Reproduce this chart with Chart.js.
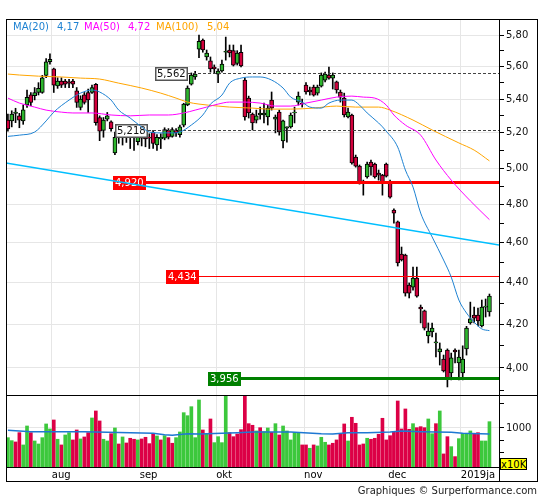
<!DOCTYPE html>
<html>
<head>
<meta charset="utf-8">
<script src="https://cdn.jsdelivr.net/npm/chart.js@4/dist/chart.umd.min.js"></script>
<style>
body { margin: 0; background: #fff; font-family: "DejaVu Sans", sans-serif; }
#box { position: relative; width: 545px; height: 500px; overflow: hidden; }
canvas { position: absolute; left: 0; top: 0; }
.lg { position: absolute; top: 21px; font-size: 10px; line-height: 12px; white-space: nowrap; }
#foot { position: absolute; right: 8px; top: 485px; font-size: 10px; line-height: 12px; color: #222; }
#unit { position: absolute; left: 500px; top: 458px; width: 27px; height: 12px; background: #ffff00;
        border: 1px solid #000; font-size: 10px; line-height: 12px; text-align: center; box-sizing: border-box; }
</style>
</head>
<body>
<div id="box">
  <canvas id="c" width="545" height="500"></canvas>
  <span class="lg" style="left:13px;color:#1e82d2">MA(20)</span>
  <span class="lg" style="left:57px;color:#1e82d2">4,17</span>
  <span class="lg" style="left:84px;color:#ff00ff">MA(50)</span>
  <span class="lg" style="left:128px;color:#ff00ff">4,72</span>
  <span class="lg" style="left:156px;color:#ffa500">MA(100)</span>
  <span class="lg" style="left:207px;color:#ffa500">5,04</span>
  <div id="unit">x10K</div>
  <div id="foot">Graphiques © Surperformance.com</div>
</div>
<script>
// daily candles, mid july 2018 -> 11 jan 2019 (index = trading day)
var monthStart = [12, 35, 55, 78, 100, 119];
var monthNames = ['aug', 'sep', 'okt', 'nov', 'dec', '2019ja'];

var open = [5.275,5.27,5.315,5.30,5.27,5.365,5.425,5.42,5.44,5.44,
  5.545,5.63,5.585,5.48,5.51,5.51,5.505,5.51,5.45,5.35,
  5.425,5.44,5.44,5.49,5.29,5.215,5.28,5.265,5.085,5.19,
  5.20,5.18,5.19,5.175,5.15,5.17,5.18,5.175,5.205,5.13,
  5.165,5.17,5.215,5.18,5.215,5.19,5.245,5.365,5.49,5.535,
  5.71,5.768,5.66,5.635,5.597,5.553,5.572,5.69,5.704,5.70,
  5.62,5.69,5.516,5.406,5.31,5.275,5.305,5.305,5.293,5.394,
  5.28,5.322,5.153,5.228,5.235,5.317,5.382,5.376,5.485,5.455,
  5.473,5.436,5.479,5.516,5.547,5.528,5.505,5.443,5.406,5.293,
  5.305,5.062,5.011,4.917,4.95,5.034,5.022,4.972,4.961,5.022,
  4.917,4.771,4.708,4.542,4.537,4.388,4.378,4.422,4.281,4.263,
  4.145,4.164,4.113,4.072,4.04,4.081,3.978,4.081,4.022,3.978,
  4.086,4.206,4.243,4.243,4.192,4.281,4.258];
var high = [5.31,5.33,5.345,5.315,5.365,5.455,5.44,5.47,5.50,5.545,
  5.65,5.68,5.59,5.53,5.53,5.52,5.52,5.52,5.47,5.42,
  5.44,5.46,5.485,5.495,5.30,5.29,5.32,5.27,5.205,5.23,
  5.235,5.22,5.225,5.215,5.215,5.20,5.195,5.195,5.215,5.19,
  5.195,5.23,5.225,5.23,5.225,5.245,5.375,5.48,5.56,5.57,
  5.80,5.775,5.704,5.66,5.61,5.585,5.64,5.787,5.736,5.736,
  5.70,5.736,5.53,5.418,5.317,5.334,5.352,5.376,5.364,5.443,
  5.305,5.334,5.275,5.235,5.317,5.352,5.443,5.40,5.50,5.473,
  5.485,5.485,5.56,5.566,5.597,5.56,5.51,5.455,5.436,5.346,
  5.31,5.073,5.017,4.933,5.034,5.045,5.028,4.989,4.965,5.028,
  4.933,4.777,4.713,4.578,4.542,4.398,4.477,4.477,4.291,4.267,
  4.206,4.206,4.159,4.113,4.058,4.086,4.067,4.086,4.081,4.10,
  4.19,4.305,4.281,4.277,4.315,4.32,4.344];
var low = [5.21,5.235,5.26,5.23,5.25,5.35,5.36,5.395,5.425,5.435,
  5.53,5.615,5.44,5.465,5.47,5.47,5.47,5.47,5.35,5.335,
  5.37,5.32,5.435,5.245,5.155,5.175,5.27,5.21,5.075,5.14,
  5.13,5.145,5.11,5.10,5.13,5.125,5.12,5.11,5.11,5.10,
  5.11,5.16,5.165,5.175,5.18,5.175,5.235,5.36,5.485,5.52,
  5.655,5.69,5.64,5.565,5.56,5.50,5.565,5.64,5.66,5.603,
  5.609,5.597,5.275,5.287,5.217,5.258,5.28,5.258,5.246,5.334,
  5.20,5.187,5.113,5.147,5.228,5.258,5.364,5.352,5.43,5.424,
  5.418,5.424,5.473,5.505,5.522,5.461,5.436,5.382,5.293,5.287,
  5.022,5.005,4.911,4.851,4.944,4.961,4.944,4.933,4.851,4.95,
  4.835,4.702,4.482,4.507,4.334,4.325,4.363,4.329,4.206,4.173,
  4.113,4.141,4.049,4.013,3.982,3.916,3.947,4.022,3.947,3.947,
  4.058,4.20,4.206,4.192,4.187,4.234,4.238];
var close = [5.223,5.31,5.322,5.275,5.335,5.41,5.38,5.44,5.465,5.53,
  5.63,5.645,5.485,5.51,5.485,5.49,5.497,5.49,5.38,5.40,
  5.38,5.395,5.47,5.26,5.21,5.275,5.30,5.225,5.175,5.20,
  5.18,5.19,5.175,5.19,5.175,5.18,5.165,5.17,5.14,5.175,
  5.175,5.22,5.175,5.22,5.20,5.235,5.37,5.467,5.547,5.553,
  5.76,5.704,5.685,5.585,5.585,5.572,5.615,5.695,5.685,5.609,
  5.685,5.603,5.293,5.317,5.258,5.30,5.317,5.317,5.346,5.346,
  5.293,5.205,5.27,5.235,5.305,5.322,5.418,5.37,5.443,5.443,
  5.424,5.473,5.547,5.553,5.528,5.547,5.455,5.412,5.305,5.322,
  5.028,5.011,4.917,4.922,5.022,5.006,4.95,4.961,4.917,4.955,
  4.84,4.755,4.497,4.512,4.348,4.348,4.422,4.334,4.272,4.182,
  4.168,4.182,4.118,4.086,3.987,3.951,4.045,4.072,4.049,4.04,
  4.182,4.225,4.229,4.215,4.281,4.286,4.334];

// volume in units of 10K shares, G = up day, R = down day
var volume = [764,703,678,878,624,1057,878,697,641,764,
  1118,973,1249,731,624,823,878,717,946,737,
  779,878,1320,1604,1215,731,697,853,1000,641,
  779,659,751,731,717,737,772,647,839,801,
  717,807,764,654,764,895,1530,1407,1807,764,
  2177,946,839,1284,665,785,665,2450,878,785,
  846,954,2450,1127,1078,920,1008,902,1000,887,
  1127,823,1057,920,717,878,878,624,624,569,
  624,607,772,672,624,654,717,839,1118,697,
  1346,1139,624,641,751,731,751,839,1309,717,
  807,887,2117,973,1696,965,1127,1008,1037,1008,
  1284,853,1127,1604,486,785,595,451,743,863,
  863,920,846,878,697,697,1191];
var volDir = ('GGRRGGRGGG' + 'GGRGRGGRRG' + 'RRGRRGGRGR' + 'GRRRGRRRRG' + 'RGRRGGGGGG' +
  'GRGRGGGGRR' + 'RRRRRGRGGR' + 'GRGGGGGRRG' + 'RGGGRRRRRG' + 'RRRRGRRRRR' +
  'RRRRRRGRRR' + 'GGRGRRGRGG' + 'GGRRGGG').split('');

// moving averages (index, value)
var ma20Idx = [0,3,7,10,12,16,19,22,24,27,29,32,35,37,40,43,45,48,51,53,56,58,61,64,66,69,72,74,77,79,82,84,87,90,92,94,97,99,102,104,106,108,111,114,116,118,120,122,124,126];
var ma20Val = [5.18,5.187,5.205,5.27,5.322,5.394,5.436,5.455,5.443,5.394,5.334,5.287,5.234,5.205,5.20,5.20,5.205,5.246,5.305,5.37,5.424,5.497,5.528,5.535,5.535,5.516,5.467,5.412,5.382,5.352,5.346,5.376,5.394,5.394,5.364,5.317,5.258,5.21,5.118,4.989,4.895,4.755,4.63,4.512,4.427,4.315,4.253,4.21,4.178,4.17];
var ma50Idx = [0,3,7,10,14,17,22,27,32,37,42,46,49,52,55,58,62,66,70,74,78,82,86,90,93,96,99,101,104,108,112,116,121,126];
var ma50Val = [5.406,5.376,5.352,5.334,5.322,5.317,5.317,5.305,5.30,5.305,5.305,5.317,5.334,5.352,5.37,5.382,5.382,5.376,5.358,5.358,5.376,5.394,5.412,5.418,5.412,5.406,5.364,5.305,5.246,5.187,5.045,4.933,4.82,4.72];
var ma100Idx = [0,3,8,14,19,24,29,35,40,44,47,50,55,58,64,68,74,80,86,91,97,100,106,111,118,122,126];
var ma100Val = [5.553,5.547,5.54,5.535,5.528,5.522,5.497,5.467,5.436,5.406,5.382,5.37,5.358,5.352,5.346,5.34,5.34,5.346,5.358,5.352,5.352,5.334,5.275,5.217,5.142,5.101,5.04];
var volMaIdx = [0,6,20,32,38,41,43,47,50,60,64,74,82,85,89,94,100,103,108,116,119,126];
var volMaVal = [938,902,902,878,863,830,816,853,846,878,895,895,853,846,878,878,895,920,902,887,863,846];

var trendIdx = [-0.5, 128.5];
var trendVal = [5.028, 4.588];

var levelValues = [5.562, 5.218, 4.920, 4.434, 3.956];
var levelStart = [47, 36.6, 36.1, 50, 61];

var priceTicks = [4.0, 4.2, 4.4, 4.6, 4.8, 5.0, 5.2, 5.4, 5.6, 5.8];
var priceMinor = [3.9, 4.1, 4.3, 4.5, 4.7, 4.9, 5.1, 5.3, 5.5, 5.7, 5.9];
var volTicks = [1000];
var volMinor = [500, 700, 2000];

var levelStyle = [
  { line: '#444', width: 1, dash: [3, 2], bg: '#fff', border: '#555', text: '#111' },
  { line: '#444', width: 1, dash: [3, 2], bg: '#fff', border: '#555', text: '#111' },
  { line: '#ff0000', width: 3, bg: '#ff0000', text: '#fff' },
  { line: '#ff0000', width: 1, bg: '#ff0000', text: '#fff' },
  { line: '#008000', width: 3, bg: '#008000', text: '#fff' }
];

function pts(ix, vals) {
  return ix.map(function (k, j) { return { x: k, y: vals[j] }; });
}
function tickList(major, minor) {
  return major.map(function (v) { return { value: v, lab: true }; })
    .concat(minor.map(function (v) { return { value: v, lab: false }; }))
    .sort(function (a, b) { return a.value - b.value; });
}

var days = open.map(function (o, i) { return i; });
var BODY_INDEX = 4;

// level lines + value boxes, drawn right after the candle bodies
var levelPlugin = {
  id: 'levels',
  afterDatasetDraw: function (chart, args) {
    if (args.index !== BODY_INDEX) return;
    var ctx = chart.ctx, area = chart.chartArea, x = chart.scales.x, y = chart.scales.y;
    ctx.save();
    ctx.font = '10px "DejaVu Sans"';
    levelValues.forEach(function (v, k) {
      var st = levelStyle[k];
      var py = Math.round(y.getPixelForValue(v)) + (st.width % 2 ? 0.5 : 0);
      var px = Math.round(x.getPixelForValue(levelStart[k]));
      ctx.beginPath();
      ctx.strokeStyle = st.line;
      ctx.lineWidth = st.width;
      ctx.setLineDash(st.dash || []);
      ctx.moveTo(px, py);
      ctx.lineTo(area.right, py);
      ctx.stroke();
      ctx.setLineDash([]);
      var txt = v.toFixed(3).replace('.', ',');
      var w = Math.round(ctx.measureText(txt).width) + 4, h = 14;
      var top = Math.round(py - h / 2);
      ctx.fillStyle = st.bg;
      ctx.fillRect(px - w, top, w, h);
      if (st.border) {
        ctx.strokeStyle = st.border;
        ctx.lineWidth = 1.5;
        ctx.strokeRect(px - w + 0.75, top + 0.75, w - 1.5, h - 1.5);
      }
      ctx.fillStyle = st.text;
      ctx.textBaseline = 'middle';
      ctx.textAlign = 'left';
      ctx.fillText(txt, px - w + 2, top + h / 2 + 0.5);
    });
    ctx.restore();
  }
};

var framePlugin = {
  id: 'frame',
  afterDraw: function (chart) {
    var ctx = chart.ctx, a = chart.chartArea, yv = chart.scales.yv;
    ctx.save();
    ctx.strokeStyle = '#000';
    ctx.lineWidth = 1;
    ctx.strokeRect(6.5, 19.5, 531, 462);
    ctx.beginPath();
    ctx.moveTo(a.right + 0.5, 19); ctx.lineTo(a.right + 0.5, 482);
    ctx.moveTo(6, Math.round(yv.top) + 0.5); ctx.lineTo(538, Math.round(yv.top) + 0.5);
    ctx.moveTo(6, a.bottom + 0.5); ctx.lineTo(a.right, a.bottom + 0.5);
    ctx.stroke();
    ctx.restore();
  }
};

Chart.defaults.font.family = '"DejaVu Sans", sans-serif';
Chart.defaults.font.size = 10;
Chart.defaults.color = '#111';

new Chart(document.getElementById('c'), {
  type: 'bar',
  data: {
    datasets: [
      { type: 'line', label: 'trend', data: pts(trendIdx, trendVal), yAxisID: 'y',
        borderColor: '#00bfff', borderWidth: 1.5, pointRadius: 0, order: 0 },
      { type: 'line', label: 'MA(20)', data: pts(ma20Idx, ma20Val), yAxisID: 'y',
        borderColor: '#1e82d2', borderWidth: 1, pointRadius: 0, cubicInterpolationMode: 'monotone', order: 1 },
      { type: 'line', label: 'MA(50)', data: pts(ma50Idx, ma50Val), yAxisID: 'y',
        borderColor: '#ff00ff', borderWidth: 1, pointRadius: 0, cubicInterpolationMode: 'monotone', order: 1 },
      { type: 'line', label: 'MA(100)', data: pts(ma100Idx, ma100Val), yAxisID: 'y',
        borderColor: '#ffa500', borderWidth: 1, pointRadius: 0, cubicInterpolationMode: 'monotone', order: 1 },
      { label: 'body', yAxisID: 'y', grouped: false, barThickness: 4, order: 3,
        data: days.map(function (i) { return { x: i, y: [open[i], close[i]] }; }),
        backgroundColor: days.map(function (i) { return close[i] >= open[i] ? '#2db52d' : '#d2003c'; }),
        borderColor: '#000', borderWidth: 1, borderSkipped: false },
      { label: 'wick', yAxisID: 'y', grouped: false, barThickness: 1, order: 4,
        data: days.map(function (i) { return { x: i, y: [low[i], high[i]] }; }),
        backgroundColor: '#000' },
      { label: 'volume', yAxisID: 'yv', grouped: false, barThickness: 3, order: 3,
        data: days.map(function (i) { return { x: i, y: volume[i] }; }),
        backgroundColor: volDir.map(function (d) { return d === 'G' ? '#3cc83c' : '#dc0046'; }) },
      { type: 'line', label: 'vol MA', data: pts(volMaIdx, volMaVal), yAxisID: 'yv',
        borderColor: '#1e78d2', borderWidth: 1.5, pointRadius: 0, order: 1 }
    ]
  },
  options: {
    responsive: false,
    animation: false,
    devicePixelRatio: 1,
    layout: { padding: { left: 6, top: 19, right: 7, bottom: 18 } },
    plugins: { legend: { display: false }, tooltip: { enabled: false } },
    scales: {
      x: {
        type: 'linear', min: -0.5, max: 128.5, offset: false,
        afterBuildTicks: function (s) { s.ticks = monthStart.map(function (m) { return { value: m - 0.5 }; }); },
        afterFit: function (s) { s.height = 15; },
        ticks: { callback: function (v, i) { return monthNames[i]; }, align: 'start', autoSkip: false,
                 maxRotation: 0, padding: 2, color: '#000' },
        grid: { offset: false, color: '#e6e6e6', drawTicks: false },
        border: { display: false }
      },
      y: {
        type: 'logarithmic', position: 'right', stack: 'panels', stackWeight: 376, weight: 1,
        min: 3.881, max: 5.905,
        afterBuildTicks: function (s) { s.ticks = tickList(priceTicks, priceMinor); },
        afterFit: function (s) { s.width = 39; },
        ticks: { callback: function (v, i, t) { return t[i].lab ? v.toFixed(2).replace('.', ',') : ''; },
                 autoSkip: false, padding: 2, color: '#111' },
        grid: { color: function (c) { return c.tick && c.tick.lab ? '#e6e6e6' : 'rgba(0,0,0,0)'; },
                tickColor: '#000', tickLength: 5 },
        border: { display: false }
      },
      yv: {
        type: 'logarithmic', position: 'right', stack: 'panels', stackWeight: 72, weight: 2,
        min: 338, max: 2500,
        afterBuildTicks: function (s) { s.ticks = tickList(volTicks, volMinor); },
        afterFit: function (s) { s.width = 39; },
        ticks: { callback: function (v, i, t) { return t[i].lab ? String(v) : ''; },
                 autoSkip: false, padding: 2, color: '#111' },
        grid: { color: function (c) { return c.tick && c.tick.lab ? '#e6e6e6' : 'rgba(0,0,0,0)'; },
                tickColor: '#000', tickLength: 5 },
        border: { display: false }
      }
    }
  },
  plugins: [levelPlugin, framePlugin]
});
</script>
</body>
</html>
